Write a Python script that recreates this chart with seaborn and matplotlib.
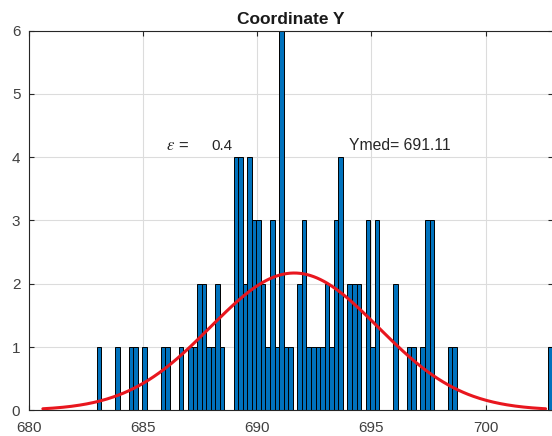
import numpy as np
import pandas as pd
import matplotlib
matplotlib.use("Agg")
import matplotlib.pyplot as plt
import seaborn as sns

# Histogram of the Y coordinate: 100 equal bins spanning the sample range
bin_lo = 682.98
bin_hi = 702.93
counts = [
    1, 0, 0, 0, 1, 0, 0, 1, 1, 0,
    1, 0, 0, 0, 1, 1, 0, 0, 1, 0,
    1, 1, 2, 2, 1, 1, 2, 1, 0, 0,
    4, 4, 2, 4, 3, 3, 2, 1, 3, 1,
    6, 1, 1, 0, 2, 3, 1, 1, 1, 1,
    2, 1, 3, 4, 0, 2, 2, 2, 0, 3,
    1, 3, 0, 0, 0, 2, 0, 0, 1, 1,
    0, 1, 3, 3, 0, 0, 0, 1, 1, 0,
    0, 0, 0, 0, 0, 0, 0, 0, 0, 0,
    0, 0, 0, 0, 0, 0, 0, 0, 0, 1,
]
epsilon = 0.4
y_med = 691.11
x_ticks = [680, 685, 690, 695, 700]
y_ticks = [0, 1, 2, 3, 4, 5, 6]

sns.set_theme(style="ticks")
plt.rcParams["font.family"] = ["Liberation Sans", "DejaVu Sans"]
plt.rcParams["mathtext.fontset"] = "stix"

edges = np.linspace(bin_lo, bin_hi, len(counts) + 1)
centers = 0.5 * (edges[:-1] + edges[1:])
width = edges[1] - edges[0]
df = pd.DataFrame({"y": centers, "n": counts})

# normal fit scaled to the histogram, drawn over mean +/- 3 sigma
n_total = float(np.sum(counts))
mu = np.average(centers, weights=counts)
sd = np.sqrt(np.average((centers - mu) ** 2, weights=counts))
xs = np.linspace(mu - 3 * sd, mu + 3 * sd, 300)
ys = n_total * width * np.exp(-0.5 * ((xs - mu) / sd) ** 2) / (sd * np.sqrt(2 * np.pi))

W, H = 552, 436
fig = plt.figure(figsize=(W / 100, H / 100), dpi=100)
ax = fig.add_axes([28.7 / W, 1 - 410.3 / H, (552.6 - 28.7) / W, (410.3 - 30.7) / H])

sns.histplot(data=df, x="y", weights="n", bins=len(counts), binrange=(bin_lo, bin_hi),
             color="#0072BD", alpha=1.0, edgecolor="black", linewidth=0.7, ax=ax, zorder=2)
sns.lineplot(x=xs, y=ys, color="#E8161E", linewidth=2.2, ax=ax, zorder=3)

ax.set_xlim(680, bin_hi)
ax.set_ylim(0, 6)
ax.set_xticks(x_ticks)
ax.set_yticks(y_ticks)
ax.set_xlabel("")
ax.set_ylabel("")
ax.grid(True, color="#dcdcdc", linewidth=0.8, zorder=0)
ax.set_axisbelow(True)

for side in ["left", "bottom", "top", "right"]:
    ax.spines[side].set_visible(True)
    ax.spines[side].set_color("#262626")
    ax.spines[side].set_linewidth(0.8)

ax.tick_params(axis="both", direction="in", top=True, right=True, length=3.5,
               width=0.8, color="#262626", labelsize=11, labelcolor="#404040")
ax.tick_params(axis="x", pad=7.5)
ax.tick_params(axis="y", pad=6)

ax.set_title("Coordinate Y", fontsize=12.5, fontweight="bold", color="#1a1a1a", pad=4.5)

ax.text(686.0, 4.11, r"$\epsilon$ =", fontsize=12, color="#262626", va="baseline", ha="left")
ax.text(688.0, 4.11, f"{epsilon}", fontsize=11, color="#262626", va="baseline", ha="left")
ax.text(694.03, 4.11, f"Ymed= {y_med:.2f}", fontsize=11.3, color="#262626", va="baseline", ha="left")

fig.savefig("out.png", dpi=100)
